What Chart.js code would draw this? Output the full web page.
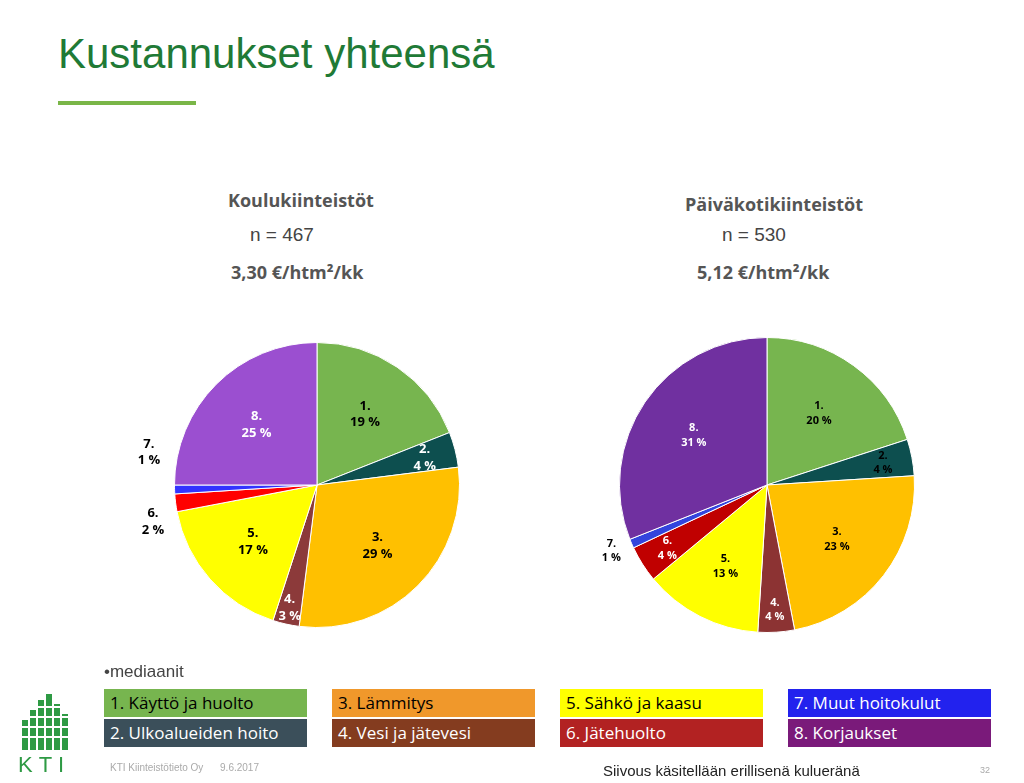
<!DOCTYPE html>
<html><head><meta charset="utf-8">
<script src="https://cdn.jsdelivr.net/npm/chart.js@4"></script>
<style>
body{margin:0;width:1024px;height:783px;background:#fff;font-family:"Liberation Sans",Arial,sans-serif;position:relative;overflow:hidden}
.abs{position:absolute}
.h{font-family:"Open Sans";font-weight:bold;color:#555;font-size:18px}
.lg{position:absolute;width:203px;height:28px;font-family:"Open Sans";font-size:17px;line-height:28px;padding-left:6px;box-sizing:border-box}
</style></head><body>
<div class="abs" style="left:58px;top:30px;font-size:42px;color:#1f7a36">Kustannukset yhteensä</div>
<div class="abs" style="left:58px;top:101px;width:138px;height:4px;background:#7ab648"></div>
<div class="abs h" style="left:228px;top:188px">Koulukiinteistöt</div>
<div class="abs" style="left:250px;top:224px;font-size:19px;color:#444">n = 467</div>
<div class="abs h" style="left:231px;top:260px">3,30 €/htm²/kk</div>
<div class="abs h" style="left:685px;top:192px">Päiväkotikiinteistöt</div>
<div class="abs" style="left:722px;top:224px;font-size:19px;color:#444">n = 530</div>
<div class="abs h" style="left:697px;top:260px">5,12 €/htm²/kk</div>
<div class="abs" style="left:134px;top:302px;width:366px;height:366px"><canvas id="c1"></canvas></div>
<div class="abs" style="left:579px;top:297px;width:376px;height:376px"><canvas id="c2"></canvas></div>
<div class="abs" style="left:104px;top:662px;font-size:17px;color:#444">•mediaanit</div>
<div id="legend"></div>
<div class="abs" style="left:18px;top:690px;width:60px;height:60px">
<svg width="60" height="70"><g fill="#2e9a44">
<rect x="4" y="30" width="6" height="30"/><rect x="12" y="20" width="6" height="40"/><rect x="20" y="10" width="6" height="50"/><rect x="28" y="4" width="6" height="56"/><rect x="36" y="14" width="6" height="46"/><rect x="44" y="24" width="6" height="36"/></g>
<g fill="#fff"><rect x="0" y="36" width="60" height="2"/><rect x="0" y="46" width="60" height="2"/><rect x="0" y="26" width="60" height="2"/><rect x="0" y="16" width="60" height="2"/></g></svg></div>
<div class="abs" style="left:18px;top:752px;font-size:22px;color:#2e9a44;letter-spacing:6px">KTI</div>
<div class="abs" style="left:110px;top:762px;font-size:10px;color:#aaa">KTI Kiinteistötieto Oy &nbsp;&nbsp;&nbsp;&nbsp; 9.6.2017</div>
<div class="abs" style="left:603px;top:762px;font-size:15px;color:#222">Siivous käsitellään erillisenä kulueränä</div>
<div class="abs" style="left:980px;top:765px;font-size:9px;color:#aaa">32</div>
<script>
const categories = ['1. Käyttö ja huolto','2. Ulkoalueiden hoito','3. Lämmitys','4. Vesi ja jätevesi','5. Sähkö ja kaasu','6. Jätehuolto','7. Muut hoitokulut','8. Korjaukset'];
const shortLabels = ['1.','2.','3.','4.','5.','6.','7.','8.'];
const schoolValues = [19,4,29,3,17,2,1,25];
const daycareValues = [20,4,23,4,13,4,1,31];
const schoolColors = ['#77b54f','#0d4f4f','#ffc000','#8c3a3a','#ffff00','#ff0000','#3333ff','#9b4fd0'];
const daycareColors = ['#77b54f','#0d4f4f','#ffc000','#8c3333','#ffff00','#c00000','#3344dd','#7030a0'];
const legendColors = ['#77b54f','#3b4f5a','#f0982b','#843c1f','#ffff00','#b22222','#2222ee','#7a1a7a'];
const legendText = ['#000','#fff','#000','#fff','#000','#fff','#fff','#fff'];

const lg = document.getElementById('legend');
categories.forEach((c,i)=>{
  const d=document.createElement('div');d.className='lg';
  d.style.left=(104+Math.floor(i/2)*228)+'px';d.style.top=(689+(i%2)*30)+'px';
  d.style.background=legendColors[i];d.style.color=legendText[i];d.textContent=c;lg.appendChild(d);
});

function labelPlugin(cfg){
  return {id:'lbl',afterDatasetsDraw(chart){
    const ctx=chart.ctx;const ds=chart.data.datasets[0];
    chart.getDatasetMeta(0).data.forEach((arc,i)=>{
      const c=cfg[i];const mid=(arc.startAngle+arc.endAngle)/2;
      const r=arc.outerRadius*c.r;
      const x=arc.x+Math.cos(mid)*r+(c.dx||0), y=arc.y+Math.sin(mid)*r+(c.dy||0);
      ctx.save();ctx.font='bold '+cfg.size+'px "Open Sans"';ctx.fillStyle=c.col;ctx.textAlign='center';ctx.textBaseline='middle';
      ctx.fillText(shortLabels[i],x,y-cfg.size*0.65);ctx.fillText(ds.data[i]+' %',x,y+cfg.size*0.65);ctx.restore();
    });
  }};
}
const cfg1=[{r:.6,col:'#000'},{r:.78,col:'#fff'},{r:.6,col:'#000'},{r:.88,col:'#fff'},{r:.6,col:'#000'},{r:1.16,col:'#000',dy:16},{r:1.18,col:'#000',dy:-38},{r:.6,col:'#fff'}];cfg1.size=13;
const cfg2=[{r:.6,col:'#000'},{r:.8,col:'#000'},{r:.6,col:'#000'},{r:.85,col:'#fff'},{r:.62,col:'#000'},{r:.8,col:'#fff'},{r:1.12,col:'#000',dx:-4},{r:.6,col:'#fff'}];cfg2.size=11;

function pie(id,vals,cols,cfg){
  new Chart(document.getElementById(id),{type:'pie',
    data:{labels:categories,datasets:[{data:vals,backgroundColor:cols,borderColor:'#fff',borderWidth:1}]},
    options:{responsive:true,maintainAspectRatio:false,animation:false,layout:{padding:40},
      plugins:{legend:{display:false},tooltip:{enabled:false}}},
    plugins:[labelPlugin(cfg)]});
}
pie('c1',schoolValues,schoolColors,cfg1);
pie('c2',daycareValues,daycareColors,cfg2);
</script></body></html>
